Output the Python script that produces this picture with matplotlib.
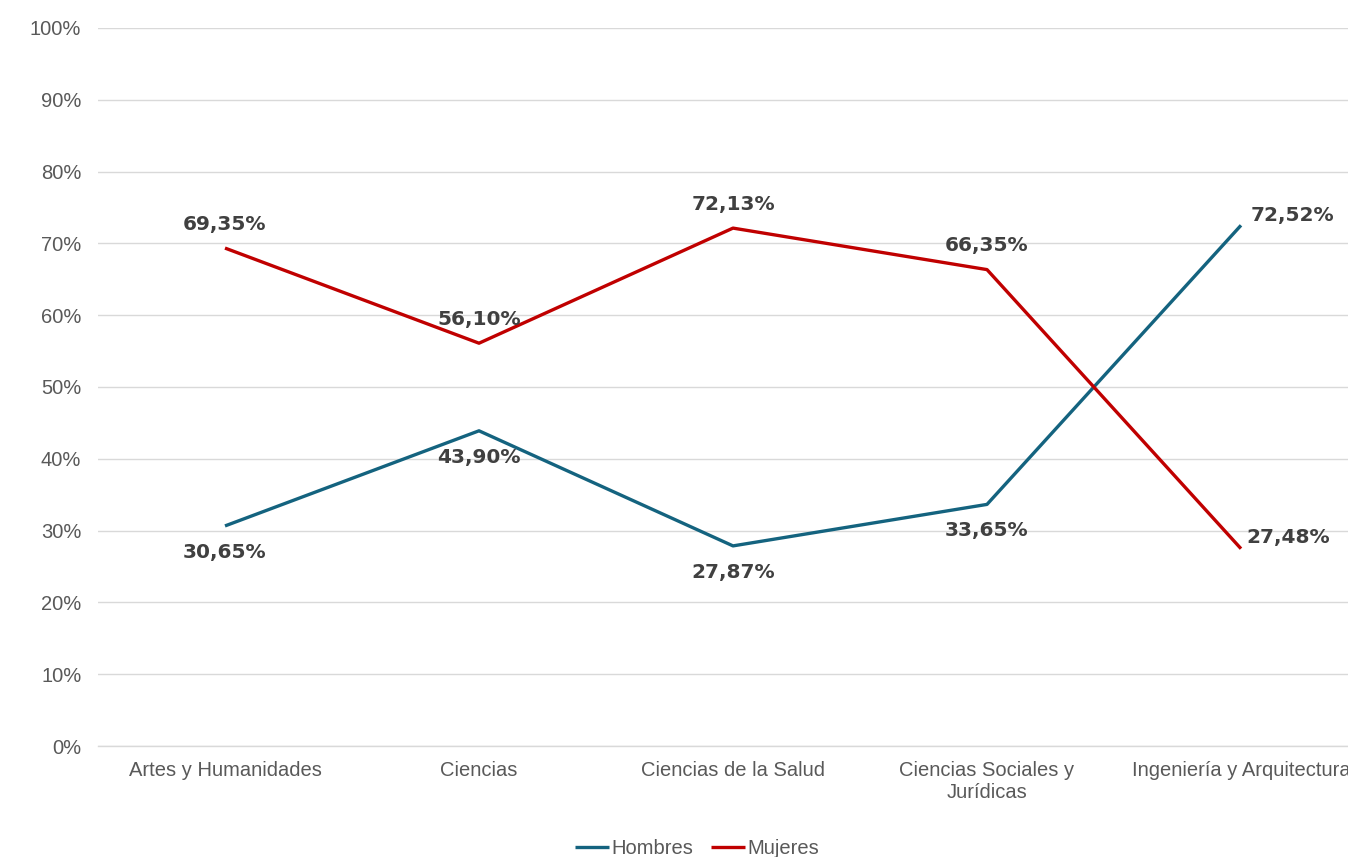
import matplotlib
matplotlib.use("Agg")
import matplotlib.pyplot as plt
from matplotlib.ticker import FuncFormatter

categories = ["Artes y Humanidades", "Ciencias", "Ciencias de la Salud",
              "Ciencias Sociales y\nJurídicas", "Ingeniería y Arquitectura"]
hombres = [30.65, 43.90, 27.87, 33.65, 72.52]
mujeres = [69.35, 56.10, 72.13, 66.35, 27.48]
yticks = [0, 10, 20, 30, 40, 50, 60, 70, 80, 90, 100]

c_h = "#14637f"
c_m = "#c00000"
tick_col = "#595959"
lab_col = "#404040"

fig = plt.figure(figsize=(13.48, 8.57), dpi=100)
ax = fig.add_axes([98/1348, 111/857, (1368-98)/1348, (746-28)/857])

x = list(range(len(categories)))
ax.plot(x, hombres, color=c_h, lw=2.4, label="Hombres", solid_capstyle="butt", zorder=3)
ax.plot(x, mujeres, color=c_m, lw=2.4, label="Mujeres", solid_capstyle="butt", zorder=3)

ax.set_xlim(-0.5, 4.5)
ax.set_ylim(0, 100)
ax.set_yticks(yticks)
ax.yaxis.set_major_formatter(FuncFormatter(lambda v, p: f"{int(v)}%"))
ax.set_xticks(x)
ax.set_xticklabels(categories, fontfamily="Liberation Sans", fontsize=14.5, color=tick_col,
                   linespacing=1.15)
for lbl in ax.get_yticklabels():
    lbl.set_fontfamily("Liberation Sans")
    lbl.set_fontsize(14.5)
    lbl.set_color(tick_col)
ax.tick_params(axis="both", length=0)
ax.tick_params(axis="y", pad=12)
ax.tick_params(axis="x", pad=11)
ax.grid(axis="y", color="#d9d9d9", lw=1.0)
ax.set_axisbelow(True)
for s in ["top", "right", "left"]:
    ax.spines[s].set_visible(False)
ax.spines["bottom"].set_color("#d9d9d9")
ax.spines["bottom"].set_linewidth(1.0)

def fmt(v):
    return f"{v:.2f}".replace(".", ",") + "%"

lab_kw = dict(fontfamily="DejaVu Sans", fontweight="bold", fontsize=14.5, color=lab_col,
              textcoords="offset points", annotation_clip=False)
n = len(categories)
for i in range(n):
    if i == n - 1:
        ax.annotate(fmt(hombres[i]), (i, hombres[i]), xytext=(7, 7), ha="left", va="center", **lab_kw)
        ax.annotate(fmt(mujeres[i]), (i, mujeres[i]), xytext=(4, 8), ha="left", va="center", **lab_kw)
    else:
        ax.annotate(fmt(mujeres[i]), (i, mujeres[i]), xytext=(0, 17), ha="center", va="center", **lab_kw)
        ax.annotate(fmt(hombres[i]), (i, hombres[i]), xytext=(0, -19), ha="center", va="center", **lab_kw)

leg = fig.legend(loc="center", bbox_to_anchor=(697/1348, 1 - 849/857), ncol=2, frameon=False,
                 prop={"family": "Liberation Sans", "size": 14.5}, handlelength=1.7,
                 handletextpad=0.1, columnspacing=0.9)
for t in leg.get_texts():
    t.set_color(tick_col)

fig.savefig("out.png", dpi=100)
